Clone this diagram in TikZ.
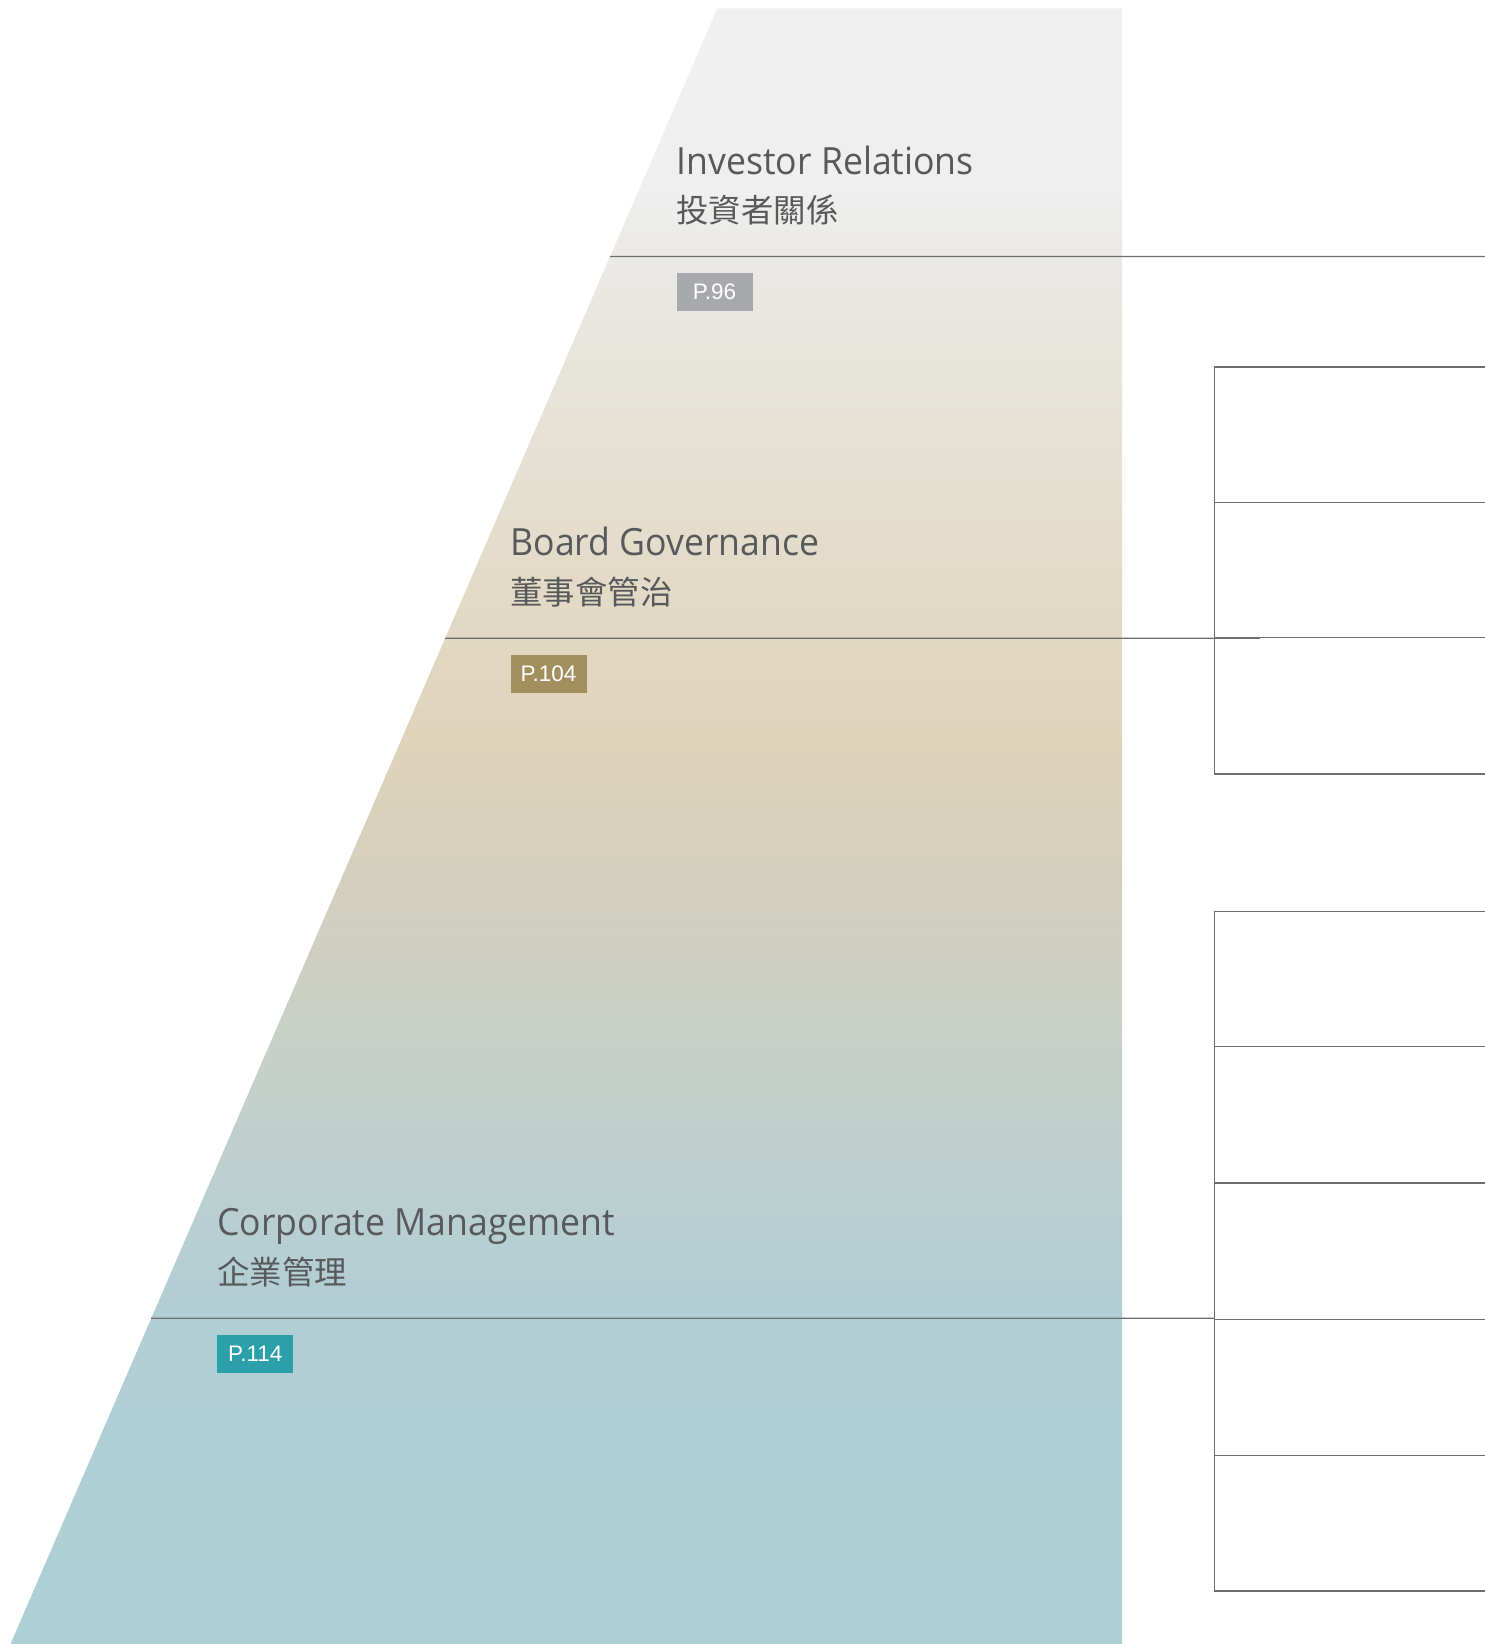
\documentclass[tikz,border=0pt]{standalone}
\usepackage{fontspec}
\setmainfont{Open Sans}[FakeStretch=0.95]
\newfontfamily\zhfont{Noto Sans CJK TC}
\newfontfamily\tagfont{Liberation Sans}
\usetikzlibrary{positioning,calc}

\definecolor{txtgray}{HTML}{58595B}
\definecolor{rulegray}{HTML}{6D6E71}
\definecolor{tagIR}{HTML}{A7A9AC}
\definecolor{tagBG}{HTML}{A38F5E}
\definecolor{tagCM}{HTML}{2B9FAA}
\definecolor{fadeA}{HTML}{AFCFD6}
\definecolor{fadeB}{HTML}{B0CED4}
\definecolor{fadeC}{HTML}{BACFD0}
\definecolor{fadeD}{HTML}{C7D0C8}
\definecolor{fadeE}{HTML}{D3CFBD}
\definecolor{fadeF}{HTML}{DFD3BA}
\definecolor{fadeG}{HTML}{E3DBC8}
\definecolor{fadeH}{HTML}{E6E2D6}
\definecolor{fadeI}{HTML}{EBE9E6}
\definecolor{fadeJ}{HTML}{EEEFEE}
\definecolor{fadeK}{HTML}{EFF0EF}
\pgfdeclareverticalshading{pyramidfade}{100bp}{color(0bp)=(fadeA); color(25bp)=(fadeA);
  color(34.9bp)=(fadeB); color(38.57bp)=(fadeC); color(43.15bp)=(fadeD); color(48.04bp)=(fadeE);
  color(52.63bp)=(fadeF); color(57.61bp)=(fadeG); color(62.41bp)=(fadeH); color(67.42bp)=(fadeI);
  color(69.44bp)=(fadeJ); color(75bp)=(fadeK); color(100bp)=(fadeK)}

\begin{document}
\begin{tikzpicture}[x=1pt,y=-1pt,line cap=butt,line join=miter,
    every node/.style={inner sep=0pt,outer sep=0pt},
    entitle/.style={anchor=base west,text=txtgray,font=\fontsize{37.5}{44}\selectfont},
    zhtitle/.style={anchor=north west,text=txtgray,font=\zhfont\fontsize{32.4}{36}\selectfont},
    pagetag/.style={anchor=north west,minimum width=76pt,minimum height=38pt,text=white,
        font=\tagfont\fontsize{22.5}{24}\selectfont},
    rule/.style={draw=rulegray,line width=1.3pt},
    cell/.style={draw=rulegray,line width=1.5pt}]
    \useasboundingbox (0,0) rectangle (1485,1644);
    % shaded pyramid
    \coordinate (tl) at (717.3,8.4);
    \coordinate (tr) at (1122,8.4);
    \coordinate (br) at (1122,1644);
    \coordinate (bl) at (10.5,1644);
    \shade[shading=pyramidfade] (tl) -- (tr) -- (br) -- (bl) -- cycle;
    % levels
    \foreach \idx/\ly/\tx/\re/\en/\zh/\pg/\col in {
        1/256.5/676.5/1485/{Investor Relations}/{投資者關係}/{P.96}/tagIR,
        2/638.3/510.5/1260/{Board Governance}/{董事會管治}/{P.104}/tagBG,
        3/1318.3/217.3/1214.4/{Corporate Management}/{企業管理}/{P.114}/tagCM} {
        \coordinate (ra\idx) at ($(tl)!{(\ly-8.4)/1635.6}!(bl)$);
        \coordinate (rb\idx) at (\re,\ly);
        \draw[rule] (ra\idx) -- (rb\idx);
        \node[entitle] (en\idx) at (\tx,\ly-82.5) {\en};
        \node[zhtitle] (zh\idx) at (\tx,\ly-61.5) {\zh};
        \node[pagetag,fill=\col] (pg\idx) at (\tx,\ly+16.5) {\pg};
    }
    % empty cells on the right
    \foreach \t/\b in {367/502.3,502.3/637.6,637.6/774,
        911.3/1046.6,1046.6/1182.9,1182.9/1319.3,1319.3/1455.6,1455.6/1591} {
        \draw[cell] (1214.4,\t) rectangle (1495,\b);
    }
\end{tikzpicture}
\end{document}
